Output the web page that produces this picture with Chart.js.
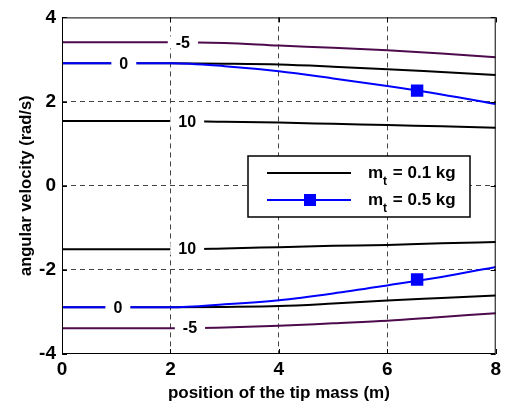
<!DOCTYPE html>
<html>
<head>
<meta charset="utf-8">
<script src="https://cdn.jsdelivr.net/npm/chart.js@4"></script>
<style>
  html, body { margin: 0; padding: 0; background: #fff; }
  #wrap { width: 505px; height: 404px; }
</style>
</head>
<body>
<div id="wrap"><canvas id="chart" width="505" height="404"></canvas></div>
<script>
// tip mass position (m)
const positions = [0, 1, 2, 3, 4, 5, 6, 7, 8];

// angular velocity contours, m_t = 0.1 kg (rad/s)
const light10Upper = [1.54, 1.54, 1.54, 1.52, 1.50, 1.47, 1.44, 1.41, 1.38];
const light0Upper = [2.91, 2.91, 2.91, 2.90, 2.88, 2.83, 2.77, 2.70, 2.63];
const lightM5Upper = [3.41, 3.41, 3.41, 3.39, 3.33, 3.28, 3.22, 3.14, 3.05];
const light10Lower = [-1.51, -1.51, -1.51, -1.49, -1.46, -1.43, -1.41, -1.37, -1.34];
const light0Lower = [-2.89, -2.89, -2.89, -2.88, -2.86, -2.80, -2.73, -2.67, -2.61];
const lightM5Lower = [-3.39, -3.39, -3.39, -3.37, -3.33, -3.27, -3.21, -3.12, -3.03];

// m_t = 0.5 kg
const heavy0Upper = [2.91, 2.91, 2.91, 2.84, 2.72, 2.55, 2.37, 2.17, 1.94];
const heavy0Lower = [-2.89, -2.89, -2.89, -2.82, -2.72, -2.56, -2.37, -2.17, -1.93];
const markerPoints = [{ x: 6.55, y: 2.26 }, { x: 6.55, y: -2.23 }];

const xTicks = [0, 2, 4, 6, 8];
const yTicks = [-4, -2, 0, 2, 4];

// contour level labels: text, which curve, where along x
const levelLabels = [
  { text: "-5", curve: lightM5Upper, x: 2.23 },
  { text: "0", curve: heavy0Upper, x: 1.14 },
  { text: "10", curve: light10Upper, x: 2.31 },
  { text: "10", curve: light10Lower, x: 2.31 },
  { text: "0", curve: heavy0Lower, x: 1.03 },
  { text: "-5", curve: lightM5Lower, x: 2.36 }
];

const PURPLE = "#4d0a4d";
const BLUE = "#0000ff";
const FONT = "'Liberation Sans', Arial, Helvetica, sans-serif";

function pts(ys) { return positions.map((x, i) => ({ x, y: ys[i] })); }
function interp(ys, x) {
  for (let i = 0; i < positions.length - 1; i++) {
    if (x >= positions[i] && x <= positions[i + 1]) {
      const t = (x - positions[i]) / (positions[i + 1] - positions[i]);
      return ys[i] + t * (ys[i + 1] - ys[i]);
    }
  }
  return ys[ys.length - 1];
}

function line(data, color, order) {
  return { data: pts(data), borderColor: color, borderWidth: 2, pointRadius: 0,
    cubicInterpolationMode: "monotone", order };
}

// frame, inward ticks, inline level labels, legend
const decorations = {
  id: "decorations",
  afterDatasetsDraw(chart) {
    const { ctx, chartArea: a, scales: { x, y } } = chart;
    ctx.save();

    // level labels with a white gap cut into the curve
    ctx.font = "bold 16px " + FONT;
    ctx.textAlign = "center";
    ctx.textBaseline = "middle";
    levelLabels.forEach(l => {
      const px = x.getPixelForValue(l.x);
      const py = y.getPixelForValue(interp(l.curve, l.x));
      const w = ctx.measureText(l.text).width + 16;
      ctx.fillStyle = "#fff";
      ctx.fillRect(px - w / 2, py - 6, w, 12);
      ctx.fillStyle = "#000";
      ctx.fillText(l.text, px, py + 1);
    });

    // box and inward ticks
    ctx.strokeStyle = "#000";
    ctx.lineWidth = 1;
    ctx.strokeRect(a.left + 0.5, a.top + 0.5, a.right - a.left - 1, a.bottom - a.top - 1);
    ctx.beginPath();
    xTicks.forEach(v => {
      const px = Math.round(x.getPixelForValue(v)) + 0.5;
      ctx.moveTo(px, a.bottom); ctx.lineTo(px, a.bottom - 5);
      ctx.moveTo(px, a.top); ctx.lineTo(px, a.top + 5);
    });
    yTicks.forEach(v => {
      const py = Math.round(y.getPixelForValue(v)) + 0.5;
      ctx.moveTo(a.left, py); ctx.lineTo(a.left + 5, py);
      ctx.moveTo(a.right, py); ctx.lineTo(a.right - 5, py);
    });
    ctx.stroke();

    // legend
    const lx = 248, ly = 156, lw = 222, lh = 61;
    ctx.fillStyle = "#fff";
    ctx.fillRect(lx, ly, lw, lh);
    ctx.lineWidth = 1.5;
    ctx.strokeStyle = "#000";
    ctx.strokeRect(lx, ly, lw, lh);

    const rows = [
      { color: "#000", marker: false, val: "0.1 kg", yy: 173 },
      { color: BLUE, marker: true, val: "0.5 kg", yy: 200 }
    ];
    rows.forEach(r => {
      ctx.strokeStyle = r.color;
      ctx.lineWidth = 2;
      ctx.beginPath();
      ctx.moveTo(267, r.yy); ctx.lineTo(351, r.yy);
      ctx.stroke();
      if (r.marker) {
        ctx.fillStyle = BLUE;
        ctx.fillRect(304, r.yy - 6, 12, 12);
      }
      ctx.fillStyle = "#000";
      ctx.textAlign = "left";
      ctx.textBaseline = "alphabetic";
      ctx.font = "bold 17px " + FONT;
      let tx = 368;
      ctx.fillText("m", tx, r.yy + 5);
      tx += ctx.measureText("m").width;
      ctx.font = "bold 12px " + FONT;
      ctx.fillText("t", tx, r.yy + 12);
      tx += ctx.measureText("t").width + 1;
      ctx.font = "bold 17px " + FONT;
      ctx.fillText(" = " + r.val, tx, r.yy + 5);
    });
    ctx.restore();
  }
};

const gridColor = (ctx, lo, hi) =>
  (ctx.tick && (ctx.tick.value === lo || ctx.tick.value === hi)) ? "rgba(0,0,0,0)" : "#444";

new Chart(document.getElementById("chart"), {
  type: "line",
  data: {
    datasets: [
      { type: "scatter", data: markerPoints, showLine: false, pointStyle: "rect",
        pointRadius: 8.8, pointHoverRadius: 8.8, backgroundColor: BLUE, borderColor: BLUE, borderWidth: 0, order: 0 },
      line(heavy0Upper, BLUE, 1),
      line(heavy0Lower, BLUE, 1),
      line(light0Upper, "#000", 2),
      line(light0Lower, "#000", 2),
      line(light10Upper, "#000", 2),
      line(light10Lower, "#000", 2),
      line(lightM5Upper, PURPLE, 2),
      line(lightM5Lower, PURPLE, 2)
    ]
  },
  options: {
    responsive: false,
    animation: false,
    devicePixelRatio: 1,
    layout: { padding: { top: 16, right: 8, left: 0, bottom: 0 } },
    plugins: { legend: { display: false }, tooltip: { enabled: false } },
    scales: {
      x: {
        type: "linear", min: 0, max: 8,
        afterBuildTicks: s => { s.ticks = xTicks.map(v => ({ value: v })); },
        afterFit: s => { s.height = 50; },
        ticks: { color: "#000", font: { family: FONT, size: 19, weight: "bold" }, padding: 4, maxRotation: 0 },
        grid: { color: c => gridColor(c, 0, 8), drawTicks: false, lineWidth: 1 },
        border: { display: false, dash: [5, 4] },
        title: { display: true, text: "position of the tip mass (m)", color: "#000",
          font: { family: FONT, size: 17, weight: "bold" }, padding: { top: 0, bottom: 0 } }
      },
      y: {
        type: "linear", min: -4, max: 4,
        afterBuildTicks: s => { s.ticks = yTicks.map(v => ({ value: v })); },
        afterFit: s => { s.width = 62; },
        ticks: { color: "#000", font: { family: FONT, size: 19, weight: "bold" }, padding: 6 },
        grid: { color: c => gridColor(c, -4, 4), drawTicks: false, lineWidth: 1 },
        border: { display: false, dash: [5, 4] },
        title: { display: true, text: "angular velocity (rad/s)", color: "#000",
          font: { family: FONT, size: 16.5, weight: "bold" }, padding: { top: 17, bottom: 0 } }
      }
    }
  },
  plugins: [decorations]
});
</script>
</body>
</html>
